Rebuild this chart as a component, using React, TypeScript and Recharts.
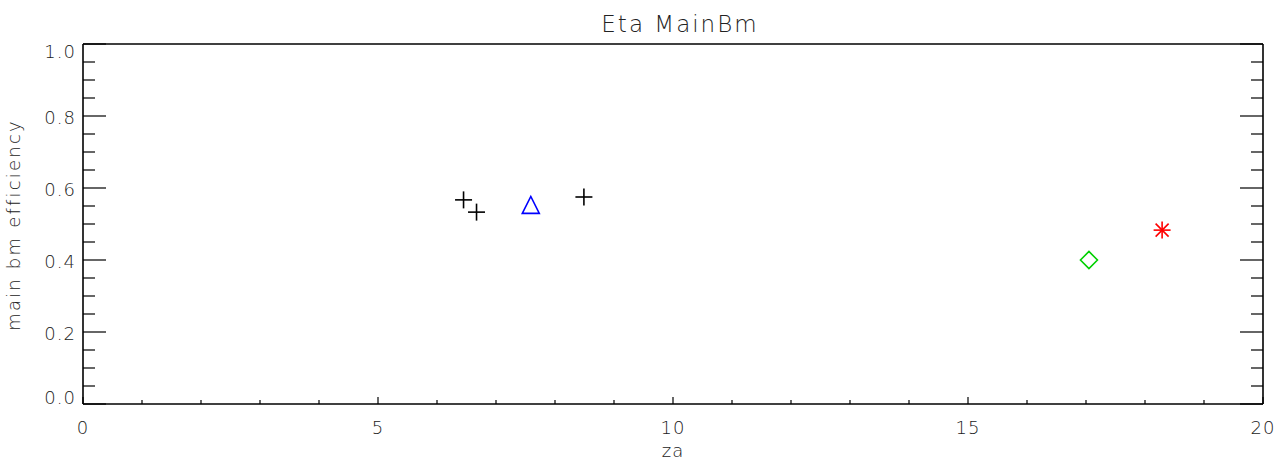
import React from 'react';
import { ScatterChart, Scatter, XAxis, YAxis } from 'recharts';

const plusZa = [6.45, 6.67, 8.49];
const plusEff = [0.567, 0.533, 0.575];
const triangleZa = [7.59];
const triangleEff = [0.553];
const diamondZa = [17.05];
const diamondEff = [0.4];
const asteriskZa = [18.29];
const asteriskEff = [0.483];

const xTicks = [0, 1, 2, 3, 4, 5, 6, 7, 8, 9, 10, 11, 12, 13, 14, 15, 16, 17, 18, 19, 20];
const xMajor = [0, 5, 10, 15, 20];
const yTicks = [0, 0.05, 0.1, 0.15, 0.2, 0.25, 0.3, 0.35, 0.4, 0.45, 0.5, 0.55, 0.6, 0.65, 0.7, 0.75, 0.8, 0.85, 0.9, 0.95, 1.0];
const yMajor = [0, 0.2, 0.4, 0.6, 0.8, 1.0];

const TITLE = 'Eta MainBm';
const XLABEL = 'za';
const YLABEL = 'main bm efficiency';

const FONT = '"DejaVu Sans", sans-serif';
const TXT = '#222';

const zip = (xs: number[], ys: number[]) => xs.map((x, i) => ({ za: x, eff: ys[i] }));

const isMajorY = (v: number) => yMajor.some((m) => Math.abs(m - v) < 1e-6);

const BottomTick = (p: any) => {
  const v = p.payload.value;
  const major = xMajor.includes(v);
  return (
    <g>
      <line x1={p.x} x2={p.x} y1={p.y} y2={p.y - (major ? 7 : 4)} stroke="#000" strokeWidth={1.2} />
      {major && (
        <text x={p.x} y={p.y + 30} textAnchor="middle" fontFamily={FONT} fontSize={18} fill={TXT} fontWeight={200} letterSpacing={1}>
          {String(v)}
        </text>
      )}
    </g>
  );
};

const TopTick = (p: any) => {
  const v = p.payload.value;
  const major = xMajor.includes(v);
  return <line x1={p.x} x2={p.x} y1={p.y} y2={p.y + (major ? 7 : 4)} stroke="#000" strokeWidth={1.2} />;
};

const LeftTick = (p: any) => {
  const v = p.payload.value;
  const major = isMajorY(v);
  let dy = 8;
  if (Math.abs(v) < 1e-6) dy = 0;
  if (Math.abs(v - 1) < 1e-6) dy = 14;
  return (
    <g>
      <line x1={p.x} x2={p.x + (major ? 23 : 12)} y1={p.y} y2={p.y} stroke="#000" strokeWidth={1.2} />
      {major && (
        <text x={p.x - 7} y={p.y + dy} textAnchor="end" fontFamily={FONT} fontSize={18} fill={TXT} fontWeight={200} letterSpacing={1}>
          {v.toFixed(1)}
        </text>
      )}
    </g>
  );
};

const RightTick = (p: any) => {
  const v = p.payload.value;
  const major = isMajorY(v);
  return <line x1={p.x} x2={p.x - (major ? 23 : 12)} y1={p.y} y2={p.y} stroke="#000" strokeWidth={1.2} />;
};

const Plus = (p: any) => {
  const { cx, cy } = p;
  const r = 8.5;
  return (
    <g stroke="#000" strokeWidth={1.6}>
      <line x1={cx - r} x2={cx + r} y1={cy} y2={cy} />
      <line x1={cx} x2={cx} y1={cy - r} y2={cy + r} />
    </g>
  );
};

const Triangle = (p: any) => {
  const { cx, cy } = p;
  const r = 8.5;
  return (
    <polygon points={`${cx - r},${cy + r} ${cx},${cy - r} ${cx + r},${cy + r}`} fill="none" stroke="#0000ff" strokeWidth={1.6} />
  );
};

const Diamond = (p: any) => {
  const { cx, cy } = p;
  const r = 8.5;
  return (
    <polygon points={`${cx - r},${cy} ${cx},${cy - r} ${cx + r},${cy} ${cx},${cy + r}`} fill="none" stroke="#00d000" strokeWidth={1.6} />
  );
};

const Asterisk = (p: any) => {
  const { cx, cy } = p;
  const r = 8.5;
  const d = 6.5;
  return (
    <g stroke="#ff0000" strokeWidth={1.6}>
      <line x1={cx - r} x2={cx + r} y1={cy} y2={cy} />
      <line x1={cx} x2={cx} y1={cy - r} y2={cy + r} />
      <line x1={cx - d} x2={cx + d} y1={cy - d} y2={cy + d} />
      <line x1={cx - d} x2={cx + d} y1={cy + d} y2={cy - d} />
    </g>
  );
};

export default function App() {
  return (
    <div style={{ position: 'absolute', left: 0, top: 0, width: 1280, height: 464, background: '#fff' }}>
      <ScatterChart width={1280} height={464} margin={{ top: 43, right: 16, bottom: 0, left: 0 }}>
        <XAxis
          xAxisId="bottom"
          dataKey="za"
          type="number"
          domain={[0, 20]}
          ticks={xTicks}
          interval={0}
          height={60}
          tickSize={0}
          tickMargin={0}
          tickLine={false}
          axisLine={{ stroke: '#000', strokeWidth: 1.6 }}
          tick={<BottomTick />}
          allowDataOverflow
          label={{
            content: (props: any) => {
              const vb = props.viewBox;
              return (
                <text x={vb.x + vb.width / 2} y={457} textAnchor="middle" fontFamily={FONT} fontSize={18} fill={TXT} fontWeight={200} letterSpacing={1}>
                  {XLABEL}
                </text>
              );
            },
          }}
        />
        <XAxis
          xAxisId="top"
          orientation="top"
          type="number"
          domain={[0, 20]}
          ticks={xTicks}
          interval={0}
          height={1}
          tickSize={0}
          tickMargin={0}
          tickLine={false}
          axisLine={{ stroke: '#000', strokeWidth: 1.6 }}
          tick={<TopTick />}
          allowDataOverflow
          label={{
            content: (props: any) => {
              const vb = props.viewBox;
              return (
                <text x={vb.x + vb.width / 2 + 7} y={32} textAnchor="middle" fontFamily={FONT} fontSize={23} fill={TXT} fontWeight={200} letterSpacing={2}>
                  {TITLE}
                </text>
              );
            },
          }}
        />
        <YAxis
          yAxisId="left"
          dataKey="eff"
          type="number"
          domain={[0, 1]}
          ticks={yTicks}
          interval={0}
          width={83}
          tickSize={0}
          tickMargin={0}
          tickLine={false}
          axisLine={{ stroke: '#000', strokeWidth: 1.6 }}
          tick={<LeftTick />}
          allowDataOverflow
          label={{
            content: (props: any) => {
              const vb = props.viewBox;
              const cy = vb.y + vb.height / 2 + 1;
              return (
                <text x={20} y={cy} transform={`rotate(-90, 20, ${cy})`} textAnchor="middle" fontFamily={FONT} fontSize={18} fill={TXT} fontWeight={200} letterSpacing={2.2}>
                  {YLABEL}
                </text>
              );
            },
          }}
        />
        <YAxis
          yAxisId="right"
          orientation="right"
          type="number"
          domain={[0, 1]}
          ticks={yTicks}
          interval={0}
          width={1}
          tickSize={0}
          tickMargin={0}
          tickLine={false}
          axisLine={{ stroke: '#000', strokeWidth: 1.6 }}
          tick={<RightTick />}
          allowDataOverflow
        />
        <Scatter xAxisId="bottom" yAxisId="left" data={zip(plusZa, plusEff)} shape={<Plus />} isAnimationActive={false} />
        <Scatter xAxisId="bottom" yAxisId="left" data={zip(triangleZa, triangleEff)} shape={<Triangle />} isAnimationActive={false} />
        <Scatter xAxisId="bottom" yAxisId="left" data={zip(diamondZa, diamondEff)} shape={<Diamond />} isAnimationActive={false} />
        <Scatter xAxisId="bottom" yAxisId="left" data={zip(asteriskZa, asteriskEff)} shape={<Asterisk />} isAnimationActive={false} />
      </ScatterChart>
    </div>
  );
}
